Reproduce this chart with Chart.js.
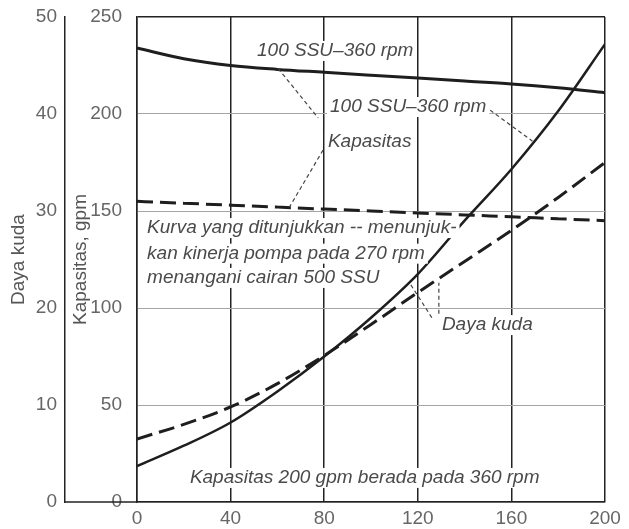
<!DOCTYPE html>
<html>
<head>
<meta charset="utf-8">
<script src="https://cdn.jsdelivr.net/npm/chart.js@4/dist/chart.umd.min.js"></script>
<style>
  html, body { margin: 0; padding: 0; background: #fff; }
  #chart { display: block; }
</style>
</head>
<body>
<canvas id="chart" width="629" height="529"></canvas>
<script>
// values
var xValues = [0, 20, 40, 60, 80, 100, 120, 140, 160, 180, 200];
var capacity100ssu = [234, 228.5, 225, 223, 221.5, 220, 218.5, 217, 215.5, 213.5, 211];
var capacity500ssu = [155, 154, 153, 152, 151, 150, 149, 148, 147, 146, 145];
var power100ssu = [3.7, 5.8, 8.2, 11.4, 15.0, 19.0, 23.5, 29.0, 34.3, 40.3, 47.2];
var power500ssu = [6.5, 8.0, 9.8, 12.2, 15.1, 18.3, 21.6, 24.8, 28.0, 31.4, 35.0];

var xTicks = [0, 40, 80, 120, 160, 200];
var gpmTicks = [0, 50, 100, 150, 200, 250];
var hpTicks = [0, 10, 20, 30, 40, 50];

// notes in chart units (x, gpm)
var notes = [
  { text: "100 SSU–360 rpm", x: 51.3, y: 232.5 },
  { text: "100 SSU–360 rpm", x: 82.5, y: 203.6 },
  { text: "Kapasitas", x: 81.6, y: 185.6 },
  { text: "Kurva yang ditunjukkan -- menunjuk-", x: 4.3, y: 141.2 },
  { text: "kan kinerja pompa pada 270 rpm", x: 4.3, y: 128 },
  { text: "menangani cairan 500 SSU", x: 4.3, y: 115.5 },
  { text: "Daya kuda", x: 130.3, y: 91.2 },
  { text: "Kapasitas 200 gpm berada pada 360 rpm", x: 22.6, y: 12.4 }
];
var leaders = [
  [60.3, 223.5, 77.4, 198],
  [79.5, 181.4, 65.4, 152.5],
  [150.9, 202, 169, 186],
  [126, 95, 117, 112],
  [129, 97, 129, 113]
];

var font = '"Liberation Sans", Arial, sans-serif';

function pts(arr) {
  return xValues.map(function (x, i) { return { x: x, y: arr[i] }; });
}
function setTicks(list) {
  return function (scale) {
    scale.ticks = list.map(function (v) { return { value: v }; });
  };
}
function fitWidth(w) {
  return function (s) {
    s.width = w;
    s.paddingTop = 0;
    s.paddingBottom = 0;
  };
}

var notesPlugin = {
  id: 'notes',
  afterDatasetsDraw: function (chart) {
    var ctx = chart.ctx, sx = chart.scales.x, sy = chart.scales.y;
    ctx.save();
    ctx.strokeStyle = '#444';
    ctx.lineWidth = 1.2;
    ctx.setLineDash([4, 3]);
    leaders.forEach(function (l) {
      ctx.beginPath();
      ctx.moveTo(sx.getPixelForValue(l[0]), sy.getPixelForValue(l[1]));
      ctx.lineTo(sx.getPixelForValue(l[2]), sy.getPixelForValue(l[3]));
      ctx.stroke();
    });
    ctx.setLineDash([]);
    ctx.font = 'italic 19px ' + font;
    ctx.textBaseline = 'middle';
    ctx.textAlign = 'left';
    notes.forEach(function (n) {
      var px = sx.getPixelForValue(n.x), py = sy.getPixelForValue(n.y);
      var w = ctx.measureText(n.text).width;
      ctx.fillStyle = '#fff';
      ctx.fillRect(px - 3, py - 10, w + 6, 20);
      ctx.fillStyle = '#4a4a4a';
      ctx.fillText(n.text, px, py);
    });
    // bottom line joining the two left axes
    var a = chart.chartArea;
    ctx.strokeStyle = '#222';
    ctx.lineWidth = 1.5;
    ctx.beginPath();
    ctx.moveTo(chart.scales.y2.right, a.bottom);
    ctx.lineTo(a.left, a.bottom);
    ctx.stroke();
    ctx.restore();
  }
};

new Chart(document.getElementById('chart').getContext('2d'), {
  type: 'line',
  data: {
    datasets: [
      { label: 'Kapasitas 100 SSU–360 rpm', data: pts(capacity100ssu), yAxisID: 'y',
        borderColor: '#1e1e1e', borderWidth: 3 },
      { label: 'Kapasitas 500 SSU–270 rpm', data: pts(capacity500ssu), yAxisID: 'y',
        borderColor: '#1e1e1e', borderWidth: 3, borderDash: [16, 7] },
      { label: 'Daya kuda 100 SSU–360 rpm', data: pts(power100ssu), yAxisID: 'y2',
        borderColor: '#1e1e1e', borderWidth: 2.5 },
      { label: 'Daya kuda 500 SSU–270 rpm', data: pts(power500ssu), yAxisID: 'y2',
        borderColor: '#1e1e1e', borderWidth: 3, borderDash: [16, 7] }
    ]
  },
  options: {
    responsive: false,
    animation: false,
    layout: { padding: { top: 17, right: 24, bottom: 0, left: 0 } },
    elements: {
      point: { radius: 0 },
      line: { fill: false, cubicInterpolationMode: 'monotone' }
    },
    plugins: { legend: { display: false }, tooltip: { enabled: false } },
    scales: {
      x: {
        type: 'linear', min: 0, max: 200,
        afterBuildTicks: setTicks(xTicks),
        afterFit: function (s) { s.height = 27; },
        grid: { color: '#222', lineWidth: 1.5, drawTicks: false },
        border: { color: '#222', width: 1.5 },
        ticks: { font: { family: font, size: 19 }, color: '#666', padding: 5 }
      },
      y: {
        type: 'linear', position: 'left', min: 0, max: 250, weight: 0,
        afterBuildTicks: setTicks(gpmTicks),
        afterFit: fitWidth(72),
        grid: {
          color: function (c) { return c.tick && c.tick.value === 250 ? '#222' : '#a5a5a5'; },
          lineWidth: function (c) { return c.tick && c.tick.value === 250 ? 1.5 : 1; },
          drawTicks: false
        },
        border: { color: '#222', width: 1.5 },
        ticks: { font: { family: font, size: 19 }, color: '#666', padding: 15 },
        title: { display: true, text: 'Kapasitas, gpm', color: '#555',
                 font: { family: font, size: 19 }, padding: { top: 4, bottom: 0 } }
      },
      y2: {
        type: 'linear', position: 'left', min: 0, max: 50, weight: 1,
        afterBuildTicks: setTicks(hpTicks),
        afterFit: fitWidth(65),
        grid: { drawOnChartArea: false, drawTicks: false },
        border: { color: '#222', width: 1.5 },
        ticks: { font: { family: font, size: 19 }, color: '#666', padding: 8 },
        title: { display: true, text: 'Daya kuda', color: '#555',
                 font: { family: font, size: 19 }, padding: { top: 7, bottom: 0 } }
      }
    }
  },
  plugins: [notesPlugin]
});
</script>
</body>
</html>
